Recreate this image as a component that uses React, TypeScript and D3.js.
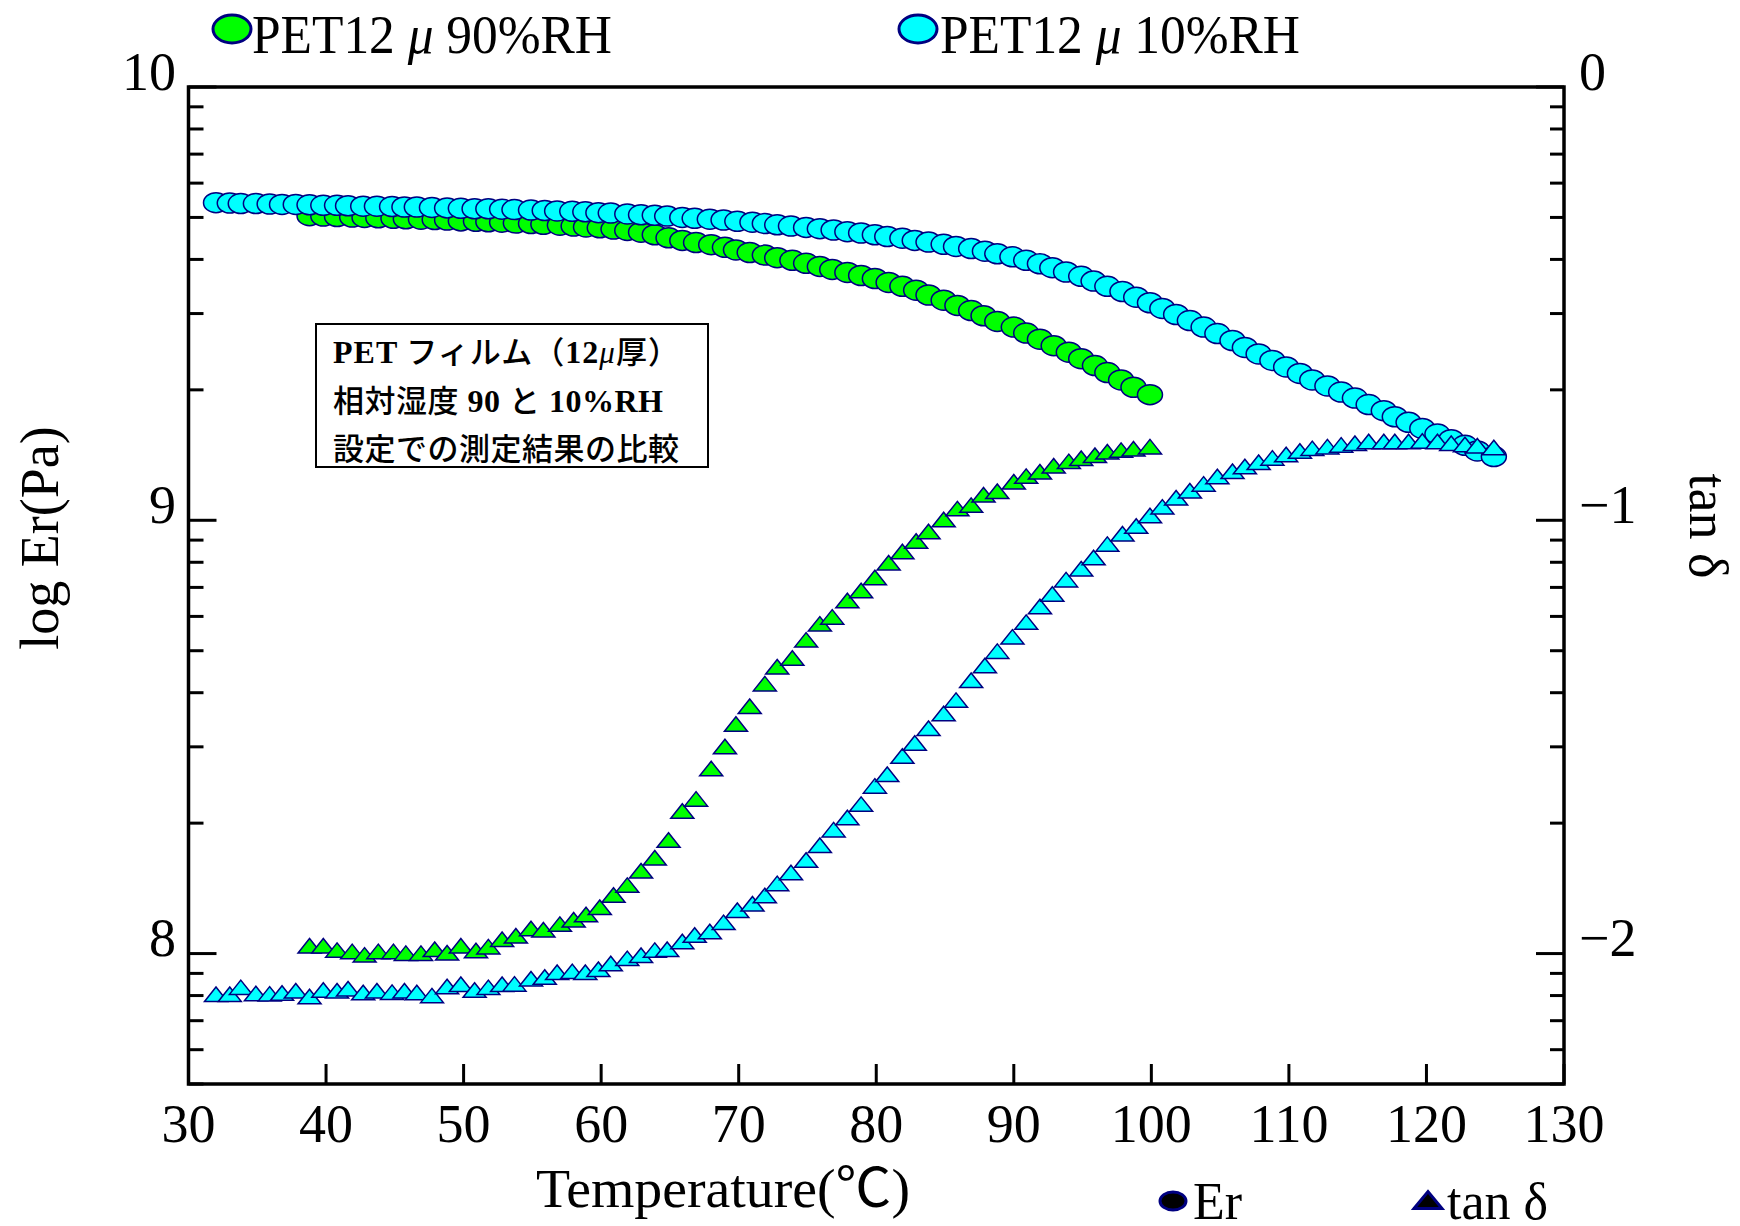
import React from "react";
import * as d3 from "d3";

// ---- measurement data -------------------------------------------------
// PET 12µ film, 10%RH: temperature (°C), log10 Er (Pa), log10 tanδ
const temp10 = [
  32.0, 33.0, 33.8, 34.9, 35.9, 36.8, 37.8, 38.8, 39.8, 40.8,
  41.6, 42.7, 43.7, 44.8, 45.7, 46.6, 47.7, 48.8, 49.8, 50.8,
  51.8, 52.8, 53.7, 54.9, 55.9, 56.8, 57.9, 58.85, 59.8, 60.7,
  61.9, 62.9, 63.9, 64.8, 65.9, 66.8, 67.9, 68.9, 69.9, 71.0,
  71.9, 72.8, 73.8, 74.9, 75.9, 76.9, 77.9, 78.9, 79.9, 80.8,
  81.9, 82.8, 83.8, 84.9, 85.8, 86.9, 87.9, 88.8, 89.9, 90.9,
  91.9, 92.8, 93.8, 94.9, 95.8, 96.8, 97.9, 98.9, 99.9, 100.8,
  101.8, 102.8, 103.8, 104.8, 105.9, 106.8, 107.8, 108.8, 109.8, 110.8,
  111.7, 112.8, 113.8, 114.8, 115.8, 116.9, 117.7, 118.7, 119.7, 120.8,
  121.8, 122.8, 123.7, 124.9,
];
const logEr10 = [
  9.733, 9.732, 9.731, 9.731, 9.730, 9.729, 9.729, 9.728, 9.727, 9.727,
  9.726, 9.725, 9.725, 9.724, 9.723, 9.723, 9.722, 9.721, 9.720, 9.719,
  9.719, 9.718, 9.717, 9.716, 9.715, 9.714, 9.713, 9.712, 9.710, 9.709,
  9.707, 9.705, 9.704, 9.702, 9.699, 9.697, 9.695, 9.693, 9.690, 9.688,
  9.685, 9.682, 9.679, 9.676, 9.673, 9.670, 9.666, 9.663, 9.659, 9.655,
  9.651, 9.646, 9.642, 9.637, 9.632, 9.627, 9.621, 9.615, 9.608, 9.600,
  9.592, 9.583, 9.573, 9.563, 9.552, 9.540, 9.528, 9.515, 9.502, 9.489,
  9.475, 9.461, 9.446, 9.431, 9.415, 9.399, 9.384, 9.369, 9.354, 9.339,
  9.324, 9.310, 9.296, 9.282, 9.267, 9.253, 9.239, 9.226, 9.212, 9.199,
  9.186, 9.173, 9.160, 9.147,
];
const logTan10 = [
  -2.094, -2.094, -2.078, -2.092, -2.093, -2.091, -2.086, -2.099, -2.084, -2.086,
  -2.081, -2.090, -2.086, -2.089, -2.086, -2.090, -2.097, -2.076, -2.071, -2.084,
  -2.078, -2.071, -2.070, -2.058, -2.054, -2.043, -2.041, -2.043, -2.036, -2.023,
  -2.011, -2.004, -1.992, -1.990, -1.972, -1.957, -1.949, -1.928, -1.900, -1.885,
  -1.866, -1.838, -1.813, -1.784, -1.750, -1.714, -1.686, -1.655, -1.613, -1.586,
  -1.544, -1.514, -1.480, -1.446, -1.415, -1.369, -1.335, -1.302, -1.269, -1.235,
  -1.199, -1.170, -1.137, -1.112, -1.086, -1.055, -1.031, -1.013, -0.989, -0.969,
  -0.948, -0.932, -0.916, -0.899, -0.887, -0.876, -0.866, -0.856, -0.848, -0.840,
  -0.834, -0.830, -0.826, -0.822, -0.818, -0.818, -0.818, -0.818, -0.817, -0.818,
  -0.822, -0.825, -0.828, -0.832,
];

// PET 12µ film, 90%RH
const temp90 = [
  38.8, 39.8, 40.8, 41.9, 42.8, 43.8, 44.9, 45.8, 46.9, 47.9,
  48.8, 49.8, 50.9, 51.8, 52.8, 53.8, 54.9, 55.8, 57.0, 58.0,
  58.9, 59.9, 60.9, 61.9, 62.9, 63.9, 64.9, 65.9, 66.9, 68.0,
  69.0, 69.8, 70.8, 71.9, 72.8, 73.9, 74.9, 75.9, 76.8, 77.9,
  78.9, 79.9, 80.9, 81.9, 82.9, 83.8, 84.9, 85.9, 86.9, 87.8,
  88.8, 90.0, 90.9, 91.9, 92.9, 94.0, 94.9, 95.9, 96.8, 97.8,
  98.7, 99.9,
];
const logEr90 = [
  9.703, 9.702, 9.701, 9.700, 9.699, 9.698, 9.697, 9.696, 9.695, 9.694,
  9.693, 9.691, 9.690, 9.689, 9.688, 9.686, 9.685, 9.683, 9.681, 9.679,
  9.677, 9.675, 9.672, 9.669, 9.665, 9.659, 9.652, 9.646, 9.641, 9.636,
  9.630, 9.624, 9.618, 9.612, 9.606, 9.600, 9.593, 9.586, 9.579, 9.572,
  9.565, 9.558, 9.549, 9.540, 9.531, 9.520, 9.508, 9.496, 9.484, 9.472,
  9.459, 9.446, 9.432, 9.418, 9.403, 9.388, 9.373, 9.357, 9.341, 9.324,
  9.307, 9.290,
];
const logTan90 = [
  -1.982, -1.982, -1.992, -1.995, -2.003, -1.995, -1.995, -1.999, -1.999, -1.990,
  -1.998, -1.982, -1.993, -1.984, -1.967, -1.959, -1.942, -1.945, -1.932, -1.922,
  -1.910, -1.893, -1.865, -1.842, -1.809, -1.779, -1.738, -1.671, -1.643, -1.573,
  -1.522, -1.470, -1.429, -1.377, -1.338, -1.318, -1.276, -1.239, -1.223, -1.185,
  -1.162, -1.132, -1.098, -1.072, -1.048, -1.026, -0.998, -0.973, -0.965, -0.941,
  -0.933, -0.911, -0.898, -0.888, -0.874, -0.864, -0.857, -0.850, -0.842, -0.838,
  -0.835, -0.830,
];

// ---- axis ticks and labels --------------------------------------------
const xTicks = [30, 40, 50, 60, 70, 80, 90, 100, 110, 120, 130];
const erMajor = [8, 9, 10];
const erLabels = ["8", "9", "10"];
const tanMajor = [-2, -1, 0];
const tanLabels = ["\u22122", "\u22121", "0"];

const seriesPrefix = "PET12";
const seriesMu = "\u03bc";
const seriesSuffixes = [" 90%RH", " 10%RH"];
const noteLine2 = ["相対湿度", " 90 ", "と", " 10%RH"];
const noteLine3 = "設定での測定結果の比較";

// ---- styling ------------------------------------------------------------
const GREEN = "#00FF00";
const CYAN = "#00FFFF";
const NAVY = "#000080";
const SERIF = "'Liberation Serif', 'Times New Roman', serif";
const CJK = "'Noto Sans CJK JP', 'Noto Sans CJK SC', sans-serif";

const SVG_WIDTH = 1740;
const SVG_HEIGHT = 1226;
const PLOT_LEFT = 188.5;
const PLOT_RIGHT = 1564;
const PLOT_TOP = 87;
const PLOT_BOTTOM = 1084;

const xScale = d3.scaleLinear().domain([30, 130]).range([PLOT_LEFT, PLOT_RIGHT]);
const yEr = d3.scaleLog().domain([5e7, 1e10]).range([PLOT_BOTTOM, PLOT_TOP]);
const yTan = d3.scaleLog().domain([0.005, 1]).range([PLOT_BOTTOM, PLOT_TOP]);

const CIRCLE_RX = 12.5;
const CIRCLE_RY = 10;
const TRI_HALF_W = 11.5;
const TRI_HALF_H = 7.25;

function triPath(cx: number, cy: number, hw: number, hh: number) {
  const p = d3.path();
  p.moveTo(cx - hw, cy + hh);
  p.lineTo(cx, cy - hh);
  p.lineTo(cx + hw, cy + hh);
  p.closePath();
  return p.toString();
}

function isDecade(v: number) {
  const l = Math.log10(v);
  return Math.abs(l - Math.round(l)) < 1e-9;
}

function Circles(props: { temps: number[]; vals: number[]; fill: string }) {
  const { temps, vals, fill } = props;
  return (
    <g>
      {temps.map((t, i) => (
        <ellipse
          key={i}
          cx={xScale(t)}
          cy={yEr(Math.pow(10, vals[i]))}
          rx={CIRCLE_RX}
          ry={CIRCLE_RY}
          fill={fill}
          stroke={NAVY}
          strokeWidth={1.5}
        />
      ))}
    </g>
  );
}

function Triangles(props: { temps: number[]; vals: number[]; fill: string }) {
  const { temps, vals, fill } = props;
  return (
    <g>
      {temps.map((t, i) => (
        <path
          key={i}
          d={triPath(xScale(t), yTan(Math.pow(10, vals[i])), TRI_HALF_W, TRI_HALF_H)}
          fill={fill}
          stroke={NAVY}
          strokeWidth={1.5}
        />
      ))}
    </g>
  );
}

function SeriesLabel(props: { x: number; suffix: string }) {
  return (
    <text x={props.x} y={53} fontFamily={SERIF} fontSize={54} textLength={360} lengthAdjust="spacingAndGlyphs">
      {seriesPrefix}
      <tspan fontStyle="italic"> {seriesMu}</tspan>
      {props.suffix}
    </text>
  );
}

export default function App() {
  const erTicks = yEr.ticks();
  const tanTicks = yTan.ticks();

  return (
    <svg
      width={SVG_WIDTH}
      height={SVG_HEIGHT}
      viewBox={`0 0 ${SVG_WIDTH} ${SVG_HEIGHT}`}
      style={{ position: "absolute", left: 0, top: 0, background: "#fff" }}
    >
      <rect x={0} y={0} width={SVG_WIDTH} height={SVG_HEIGHT} fill="#fff" />

      {/* series legend along the top */}
      <ellipse cx={232} cy={29} rx={19} ry={14} fill={GREEN} stroke={NAVY} strokeWidth={3} />
      <SeriesLabel x={252} suffix={seriesSuffixes[0]} />
      <ellipse cx={918} cy={29} rx={19} ry={14} fill={CYAN} stroke={NAVY} strokeWidth={3} />
      <SeriesLabel x={940} suffix={seriesSuffixes[1]} />

      {/* x ticks */}
      {xTicks.map((t) => (
        <g key={t}>
          <line x1={xScale(t)} x2={xScale(t)} y1={PLOT_BOTTOM} y2={PLOT_BOTTOM - 20} stroke="#000" strokeWidth={3} />
          <text x={xScale(t)} y={1142} textAnchor="middle" fontFamily={SERIF} fontSize={54}>
            {t}
          </text>
        </g>
      ))}

      {/* left axis (log Er) ticks */}
      {erTicks.map((v, i) => {
        const yy = yEr(v);
        const len = isDecade(v) ? 28 : 15;
        return <line key={i} x1={PLOT_LEFT} x2={PLOT_LEFT + len} y1={yy} y2={yy} stroke="#000" strokeWidth={3} />;
      })}
      {erMajor.map((e, i) => (
        <text key={e} x={176} y={yEr(Math.pow(10, e)) + 2.5} textAnchor="end" fontFamily={SERIF} fontSize={54}>
          {erLabels[i]}
        </text>
      ))}

      {/* right axis (log tanδ) ticks */}
      {tanTicks.map((v, i) => {
        const yy = yTan(v);
        const len = isDecade(v) ? 28 : 14;
        return <line key={i} x1={PLOT_RIGHT} x2={PLOT_RIGHT - len} y1={yy} y2={yy} stroke="#000" strokeWidth={3} />;
      })}
      {tanMajor.map((e, i) => (
        <text key={e} x={1579} y={yTan(Math.pow(10, e)) + 2.5} textAnchor="start" fontFamily={SERIF} fontSize={54}>
          {tanLabels[i]}
        </text>
      ))}

      {/* axis titles */}
      <text transform="translate(58,538) rotate(-90)" textAnchor="middle" fontFamily={SERIF} fontSize={54}>
        log Er(Pa)
      </text>
      <text transform="translate(1690,526) rotate(90)" textAnchor="middle" fontFamily={SERIF} fontSize={54}>
        tan δ
      </text>
      <text x={536} y={1207} fontFamily={SERIF} fontSize={54} textLength={374} lengthAdjust="spacingAndGlyphs">
        Temperature(<tspan fontFamily={CJK}>℃</tspan>)
      </text>

      {/* marker-type legend */}
      <ellipse cx={1173} cy={1201} rx={13} ry={9} fill="#000" stroke={NAVY} strokeWidth={3} />
      <text x={1193} y={1219} fontFamily={SERIF} fontSize={52}>Er</text>
      <path d={triPath(1428, 1200, 14, 8.5)} fill="#000" stroke={NAVY} strokeWidth={3} />
      <text x={1447} y={1219} fontFamily={SERIF} fontSize={52}>tan δ</text>

      {/* note box */}
      <rect x={316} y={324} width={392} height={143} fill="#fff" stroke="#000" strokeWidth={2} />
      <text x={333} y={363} textLength={346} lengthAdjust="spacing">
        <tspan fontFamily={SERIF} fontWeight="bold" fontSize={32}>PET</tspan>
        <tspan fontFamily={CJK} fontWeight={500} fontSize={31}> フィルム（</tspan>
        <tspan fontFamily={SERIF} fontWeight="bold" fontSize={32}>12</tspan>
        <tspan fontFamily={SERIF} fontStyle="italic" fontSize={31}>μ</tspan>
        <tspan fontFamily={CJK} fontWeight={500} fontSize={31}>厚）</tspan>
      </text>
      <text x={333} y={412} textLength={330} lengthAdjust="spacing">
        <tspan fontFamily={CJK} fontWeight={500} fontSize={31}>{noteLine2[0]}</tspan>
        <tspan fontFamily={SERIF} fontWeight="bold" fontSize={32}>{noteLine2[1]}</tspan>
        <tspan fontFamily={CJK} fontWeight={500} fontSize={31}>{noteLine2[2]}</tspan>
        <tspan fontFamily={SERIF} fontWeight="bold" fontSize={32}>{noteLine2[3]}</tspan>
      </text>
      <text x={333} y={460} fontFamily={CJK} fontWeight={500} fontSize={31} textLength={346} lengthAdjust="spacing">
        {noteLine3}
      </text>

      {/* data markers */}
      <Circles temps={temp90} vals={logEr90} fill={GREEN} />
      <Triangles temps={temp90} vals={logTan90} fill={GREEN} />
      <Circles temps={temp10} vals={logEr10} fill={CYAN} />
      <Triangles temps={temp10} vals={logTan10} fill={CYAN} />

      {/* plot frame */}
      <rect
        x={PLOT_LEFT}
        y={PLOT_TOP}
        width={PLOT_RIGHT - PLOT_LEFT}
        height={PLOT_BOTTOM - PLOT_TOP}
        fill="none"
        stroke="#000"
        strokeWidth={3.5}
      />
    </svg>
  );
}
